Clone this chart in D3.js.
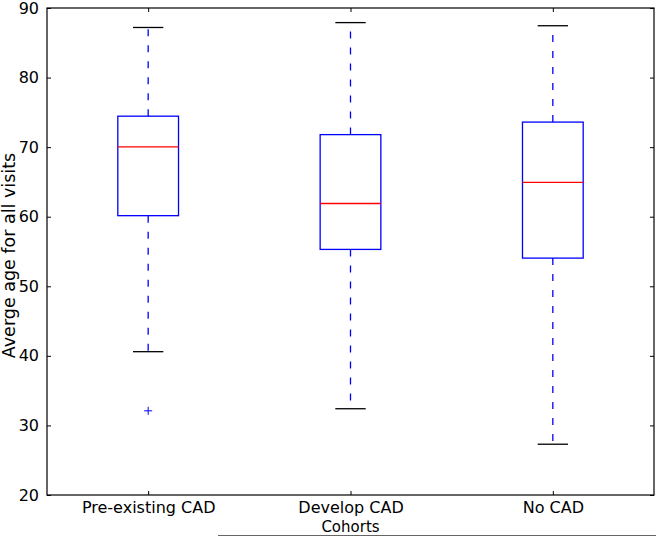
<!DOCTYPE html>
<html>
<head>
<meta charset="utf-8">
<script src="https://cdn.jsdelivr.net/npm/d3@7"></script>
<style>
  html, body { margin: 0; padding: 0; background: #fff; }
  svg { display: block; }
  text { font-family: "DejaVu Sans", sans-serif; fill: #000; }
</style>
</head>
<body>
<svg id="chart" width="656" height="536"></svg>
<script>
const categories = ["Pre-existing CAD", "Develop CAD", "No CAD"];
const whiskerHigh = [87.2, 87.9, 87.45];
const q3Values = [74.45, 71.8, 73.6];
const medians = [70.05, 61.9, 64.95];
const q1Values = [60.15, 55.3, 54.05];
const whiskerLow = [40.6, 32.4, 27.3];
const outliers = [[32.1], [], []];
const yTicks = [20, 30, 40, 50, 60, 70, 80, 90];
const yLabel = "Averge age for all visits";
const xLabel = "Cohorts";

const svg = d3.select("#chart");
const mLeft = 47, mRight = 654, mTop = 8, mBottom = 495;

const x = d3.scaleLinear().domain([0.5, categories.length + 0.5]).range([mLeft, mRight]);
const y = d3.scaleLinear().domain([20, 90]).range([mBottom, mTop]);

const boxes = categories.map((c, i) => ({
  cat: c, pos: i + 1,
  hi: whiskerHigh[i], q3: q3Values[i], med: medians[i], q1: q1Values[i], lo: whiskerLow[i],
  out: outliers[i]
}));

const boxW = 0.3, capW = 0.15;
const g = svg.append("g");

boxes.forEach(b => {
  const cx = x(b.pos);
  g.append("line").attr("x1", cx).attr("x2", cx).attr("y1", y(b.q3)).attr("y2", y(b.hi))
    .attr("stroke", "#0000ff").attr("stroke-width", 1.3).attr("stroke-dasharray", "7,9");
  g.append("line").attr("x1", cx).attr("x2", cx).attr("y1", y(b.q1)).attr("y2", y(b.lo))
    .attr("stroke", "#0000ff").attr("stroke-width", 1.3).attr("stroke-dasharray", "7,9");
  [b.hi, b.lo].forEach(v => {
    g.append("line").attr("x1", x(b.pos - capW / 2)).attr("x2", x(b.pos + capW / 2))
      .attr("y1", y(v)).attr("y2", y(v)).attr("stroke", "#000").attr("stroke-width", 1.3);
  });
  g.append("rect").attr("x", x(b.pos - boxW / 2)).attr("width", x(b.pos + boxW / 2) - x(b.pos - boxW / 2))
    .attr("y", y(b.q3)).attr("height", y(b.q1) - y(b.q3))
    .attr("fill", "none").attr("stroke", "#0000ff").attr("stroke-width", 1.3);
  g.append("line").attr("x1", x(b.pos - boxW / 2)).attr("x2", x(b.pos + boxW / 2))
    .attr("y1", y(b.med)).attr("y2", y(b.med)).attr("stroke", "#ff0000").attr("stroke-width", 1.3);
  b.out.forEach(v => {
    const ox = x(b.pos), oy = y(v);
    g.append("path").attr("d", `M${ox - 4},${oy}H${ox + 4}M${ox},${oy - 4}V${oy + 4}`)
      .attr("stroke", "#0000ff").attr("stroke-width", 1).attr("fill", "none");
  });
});

const fs = "16px";
const yAxisL = d3.axisLeft(y).tickValues(yTicks).tickSize(-4).tickPadding(8).tickFormat(d3.format("d"));
const yAxisR = d3.axisRight(y).tickValues(yTicks).tickSize(-4).tickFormat("");
const xAxisB = d3.axisBottom(x).tickValues(boxes.map(b => b.pos)).tickSize(-4).tickPadding(7)
  .tickFormat((d, i) => categories[i]);
const xAxisT = d3.axisTop(x).tickValues(boxes.map(b => b.pos)).tickSize(-4).tickFormat("");

function style(sel) {
  sel.select(".domain").remove();
  sel.selectAll(".tick line").attr("stroke", "#000");
  sel.selectAll("text").style("font-size", fs).attr("fill", "#000");
}
svg.append("g").attr("transform", `translate(${mLeft},0)`).call(yAxisL).call(style);
svg.append("g").attr("transform", `translate(${mRight},0)`).call(yAxisR).call(style);
svg.append("g").attr("transform", `translate(0,${mBottom})`).call(xAxisB).call(style);
svg.append("g").attr("transform", `translate(0,${mTop})`).call(xAxisT).call(style);

svg.append("rect").attr("x", mLeft).attr("y", mTop).attr("width", mRight - mLeft).attr("height", mBottom - mTop)
  .attr("fill", "none").attr("stroke", "#000").attr("stroke-width", 1.2);

svg.append("text").attr("transform", `translate(14.5,${(mTop + mBottom) / 2 + 4}) rotate(-90)`)
  .attr("text-anchor", "middle").style("font-size", "17.5px").text(yLabel);
svg.append("text").attr("x", x(2)).attr("y", 532).attr("text-anchor", "middle")
  .style("font-size", "15px").text(xLabel);

svg.append("line").attr("x1", 218).attr("x2", 656).attr("y1", 535.5).attr("y2", 535.5)
  .attr("stroke", "#666").attr("stroke-width", 1);
</script>
</body>
</html>
